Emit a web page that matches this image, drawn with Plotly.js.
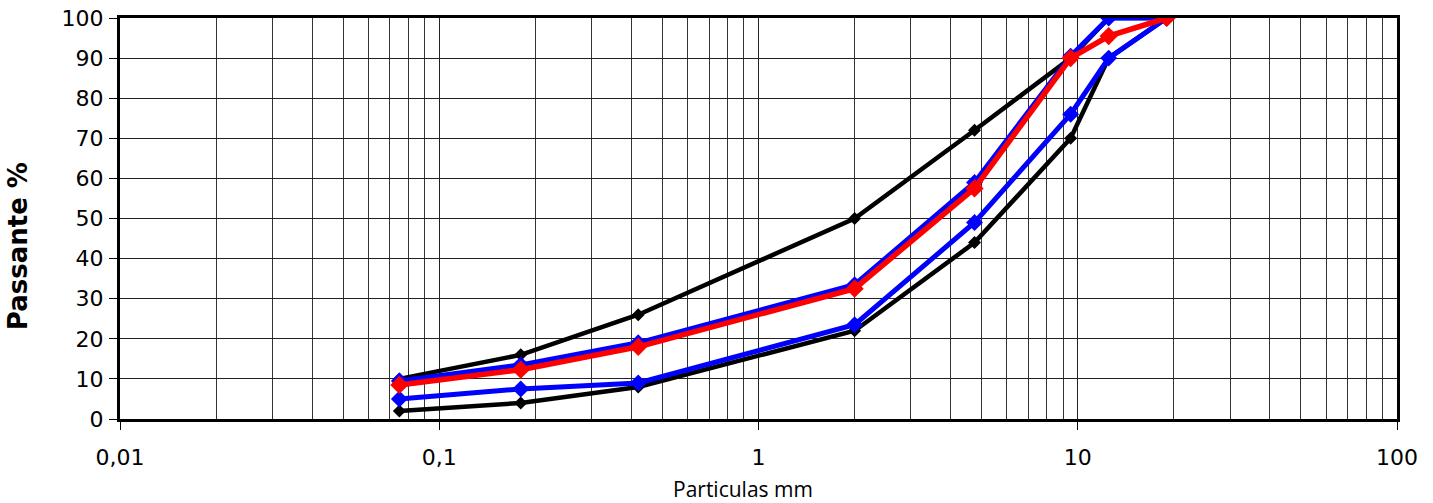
<!DOCTYPE html>
<html><head><meta charset="utf-8">
<script src="https://cdn.plot.ly/plotly-3.0.1.min.js"></script>
<style>body{margin:0;background:#fff}#c{width:1433px;height:503px}</style>
</head><body><div id="c"></div>
<script>
const sieves = [0.075, 0.18, 0.42, 2.0, 4.75, 9.5, 12.5, 19.0];
const upperLimit = [10, 16, 26, 50, 72, 90, 100, 100];
const lowerLimit = [2, 4, 8, 22, 44, 70, 90, 100];
const blueUpper = [9.5, 13.5, 19, 33.5, 59, 90.5, 100, 100];
const blueLower = [5, 7.5, 9, 23.5, 49, 76, 90, 100];
const redCurve = [8.5, 12.3, 18, 32.5, 57.5, 90, 95.5, 100];
const xTickVals = [0.01, 0.1, 1, 10, 100];
const xTickText = ['0,01', '0,1', '1', '10', '100'];
const xTitle = 'Particulas mm';
const yTitle = 'Passante %';

const minorVals = [];
[0.01, 0.1, 1, 10].forEach(d => { for (let k = 2; k <= 9; k++) minorVals.push(d * k); });

function tr(y, color, width, msize) {
  return {x: sieves, y: y, type: 'scatter', mode: 'lines+markers',
    line: {color: color, width: width},
    marker: {symbol: 'diamond', size: msize, color: color},
    showlegend: false, hoverinfo: 'skip'};
}
const data = [
  tr(upperLimit, '#000000', 4.5, 10),
  tr(lowerLimit, '#000000', 4.5, 10),
  tr(blueUpper, '#0000ff', 5, 13),
  tr(blueLower, '#0000ff', 5, 13),
  tr(redCurve, '#ff0000', 5.5, 14)
];
const layout = {
  width: 1433, height: 503,
  margin: {l: 120, r: 36, t: 18, b: 84},
  paper_bgcolor: '#fff', plot_bgcolor: '#fff',
  separators: ',.',
  xaxis: {
    type: 'log', range: [-2, 2],
    tickmode: 'array', tickvals: xTickVals, ticktext: xTickText,
    ticks: 'outside', ticklen: 8, tickcolor: '#000', tickwidth: 1,
    ticklabelstandoff: 9,
    showgrid: true, gridcolor: '#222', gridwidth: 1,
    minor: {tickmode: 'array', tickvals: minorVals, showgrid: true, gridcolor: '#333', gridwidth: 1, ticks: ''},
    showline: true, linecolor: '#000', linewidth: 3, mirror: true,
    zeroline: false,
    tickfont: {family: 'DejaVu Sans', size: 22, color: '#000'}
  },
  yaxis: {
    range: [0, 100], tickmode: 'array', tickvals: [0,10,20,30,40,50,60,70,80,90,100],
    ticks: 'outside', ticklen: 8, tickcolor: '#000', tickwidth: 1,
    ticklabelstandoff: 1,
    showgrid: true, gridcolor: '#222', gridwidth: 1,
    showline: true, linecolor: '#000', linewidth: 3, mirror: true,
    zeroline: false,
    tickfont: {family: 'DejaVu Sans', size: 22, color: '#000'}
  },
  annotations: [
    {text: xTitle, xref: 'paper', yref: 'paper', x: 0.488, y: -0.174, xanchor: 'center', yanchor: 'middle',
     showarrow: false, font: {family: 'Open Sans', size: 21, color: '#000'}},
    {text: '<b>' + yTitle + '</b>', xref: 'paper', yref: 'paper', x: -0.0802, y: 0.43, xanchor: 'center', yanchor: 'middle',
     textangle: -90, showarrow: false, font: {family: 'DejaVu Sans', size: 26, color: '#000'}}
  ]
};
Plotly.newPlot('c', data, layout, {staticPlot: true, displayModeBar: false});
</script></body></html>
